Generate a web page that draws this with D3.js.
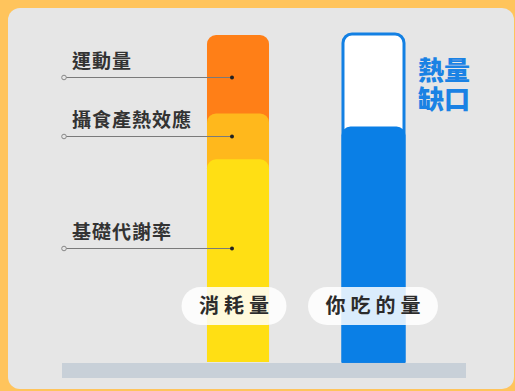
<!DOCTYPE html>
<html>
<head>
<meta charset="utf-8">
<script src="https://cdn.jsdelivr.net/npm/d3@7"></script>
<style>
  html, body { margin: 0; padding: 0; background: #FFC45C; }
  svg { display: block; font-family: "Noto Sans CJK TC", "Noto Sans CJK SC", sans-serif; }
</style>
</head>
<body>
<div id="chart"></div>
<script>
// bars: what you burn vs what you eat (share of daily burn, %)
const bars = ['消耗量', '你吃的量'];
const burnParts = ['基礎代謝率', '攝食產熱效應', '運動量'];
const burnValues = [62, 14, 24];
const burnColors = ['#FFDF14', '#FFB81C', '#FF7F17'];
const eatenValue = 72;
const gapLabel = ['熱量', '缺口'];

const W = 515, H = 391;
const svg = d3.select('#chart').append('svg')
  .attr('width', W)
  .attr('height', H);

// outer frame + grey panel
svg.append('rect').attr('width', W).attr('height', H).attr('fill', '#FFC45C');
svg.append('rect')
  .attr('x', 8).attr('y', 8)
  .attr('width', 506).attr('height', 381)
  .attr('rx', 12)
  .attr('fill', '#E6E6E6');

const x = d3.scaleBand()
  .domain(bars)
  .range([140, 471])
  .paddingInner(0.548)
  .paddingOuter(0.5);

const total = d3.sum(burnValues);
const y = d3.scaleLinear().domain([0, total]).range([362, 35]);

// rect with only the top corners rounded
function topRounded(x0, y0, w, h, r) {
  const p = d3.path();
  p.moveTo(x0, y0 + h);
  p.lineTo(x0, y0 + r);
  p.arcTo(x0, y0, x0 + r, y0, r);
  p.lineTo(x0 + w - r, y0);
  p.arcTo(x0 + w, y0, x0 + w, y0 + r, r);
  p.lineTo(x0 + w, y0 + h);
  p.closePath();
  return p.toString();
}

// stacked burn bar, drawn top segment first so lower ones overlap it
const stack = burnValues.map((v, i) => ({
  name: burnParts[i],
  y0: d3.sum(burnValues.slice(0, i)),
  y1: d3.sum(burnValues.slice(0, i + 1)),
  color: burnColors[i]
}));
const bx = x(bars[0]) - 0.5, bw = x.bandwidth() + 1;
svg.append('g').selectAll('path')
  .data(stack.slice().reverse())
  .join('path')
  .attr('d', d => topRounded(bx, y(d.y1), bw, y(0) - y(d.y1), 9))
  .attr('fill', d => d.color);

// eaten bar: outline for full burn, filled up to what was eaten
const ex = x(bars[1]) + 0.5, ew = x.bandwidth();
svg.append('path')
  .attr('d', topRounded(ex, y(total) - 1, ew, y(0) - y(total) + 1, 9))
  .attr('fill', '#FFFFFF')
  .attr('stroke', '#1380E3')
  .attr('stroke-width', 3);
svg.append('path')
  .attr('d', topRounded(ex - 1.5, y(eatenValue), ew + 3, y(0) - y(eatenValue), 9))
  .attr('fill', '#0A7FE6');

svg.append('text')
  .attr('x', 418)
  .attr('fill', '#1A82E4')
  .attr('font-size', 26)
  .attr('font-weight', 900)
  .selectAll('tspan')
  .data(gapLabel)
  .join('tspan')
  .attr('x', 418)
  .attr('y', (d, i) => 80 + i * 29)
  .text(d => d);

// leader lines + labels
const leaderAt = [0.56, 0.5, 0.47];
const lg = svg.append('g');
stack.forEach((d, i) => {
  const ly = Math.round(y(d.y0 + (d.y1 - d.y0) * leaderAt[i])) + 0.5;
  lg.append('line')
    .attr('x1', 64).attr('x2', 232)
    .attr('y1', ly).attr('y2', ly)
    .attr('stroke', '#7A7A7A')
    .attr('stroke-width', 1);
  lg.append('circle')
    .attr('cx', 64).attr('cy', ly).attr('r', 2.3)
    .attr('fill', '#E6E6E6')
    .attr('stroke', '#888').attr('stroke-width', 1);
  lg.append('circle')
    .attr('cx', 232).attr('cy', ly).attr('r', 2)
    .attr('fill', '#222');
  lg.append('text')
    .attr('x', 72).attr('y', ly - 10)
    .attr('font-size', 19)
    .attr('font-weight', 700)
    .attr('letter-spacing', 1)
    .attr('fill', '#333')
    .text(d.name);
});

// ground
svg.append('rect')
  .attr('x', 62).attr('y', 363)
  .attr('width', 404).attr('height', 15)
  .attr('fill', '#C8D0D8');

// category pills
const pills = svg.append('g').selectAll('g')
  .data(bars)
  .join('g')
  .attr('transform', d => `translate(${x(d) + x.bandwidth() / 2 - (d === bars[0] ? 4 : 0)},306)`);
pills.append('rect')
  .attr('x', d => -(d.length * 25 + 30) / 2)
  .attr('y', -19)
  .attr('width', d => d.length * 25 + 30)
  .attr('height', 38)
  .attr('rx', 19)
  .attr('fill', '#FFFFFF')
  .attr('fill-opacity', 0.85);
pills.append('text')
  .attr('text-anchor', 'middle')
  .attr('dx', 2.5)
  .attr('y', 7)
  .attr('font-size', 20)
  .attr('font-weight', 700)
  .attr('letter-spacing', 5)
  .attr('fill', '#2B2B2B')
  .text(d => d);
</script>
</body>
</html>
